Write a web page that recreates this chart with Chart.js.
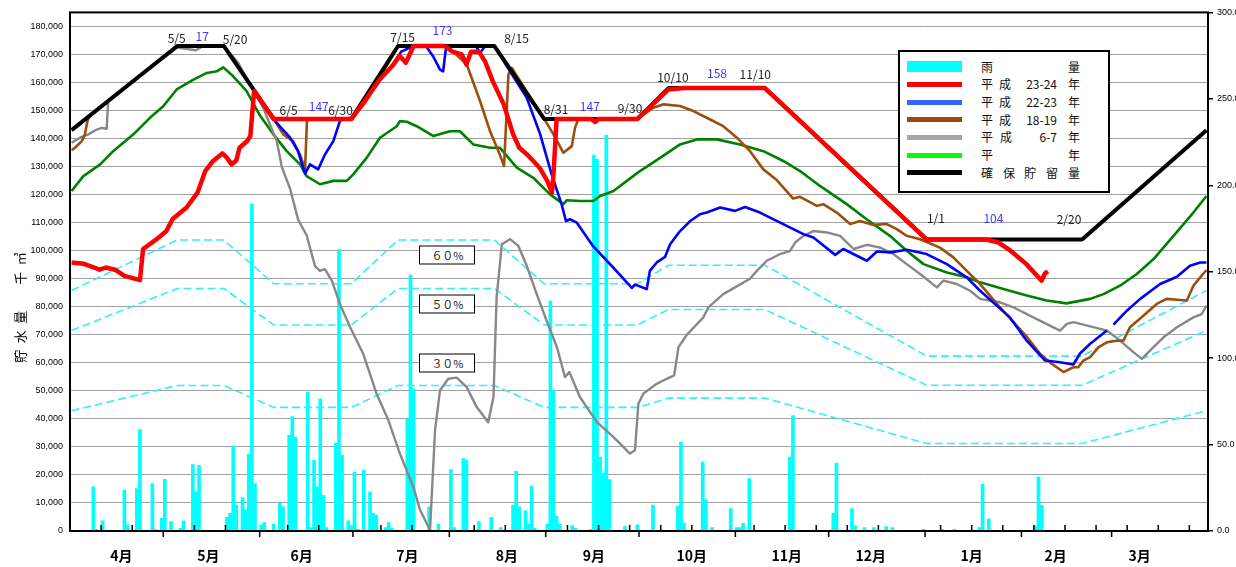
<!DOCTYPE html>
<html>
<head>
<meta charset="utf-8">
<script src="https://cdn.jsdelivr.net/npm/chart.js@4.4.1/dist/chart.umd.min.js"></script>
<style>
html, body { margin: 0; padding: 0; background: #fff; overflow: hidden; }
#wrap { position: relative; width: 1260px; height: 567px; }
#chart { position: absolute; left: 0; top: 0; }
.note { position: absolute; font: 12px "Noto Sans CJK JP", sans-serif; color: #222; transform: translate(-50%, -50%); white-space: nowrap; line-height: 1; }
.note.blue { color: #3a3aff; }
.pct { position: absolute; width: 56px; height: 19px; box-sizing: border-box; border: 1.5px solid #000; background: #fff;
       font: 11px "Noto Sans CJK JP", sans-serif; text-align: center; line-height: 16px; transform: translate(-50%, -50%); color: #222; }
#legend { position: absolute; left: 898px; top: 50px; width: 212px; height: 143px; box-sizing: border-box; border: 2px solid #000; background: #fff; }
#legend .sw { position: absolute; left: 7px; width: 55px; }
#legend .tx { position: absolute; font: 12px "Noto Sans CJK JP", sans-serif; color: #111; line-height: 1; white-space: nowrap; }
</style>
</head>
<body>
<div id="wrap">
  <canvas id="chart" width="1260" height="567"></canvas>
  <div id="legend"></div>
</div>
<script>
// Axis labels
const monthNames = ['4月', '5月', '6月', '7月', '8月', '9月', '10月', '11月', '12月', '1月', '2月', '3月'];
const monthLabelDays = [16, 44, 74, 108, 140, 168, 199.5, 230, 257, 289.5, 316.5, 343.5];
const monthStarts = [30, 61, 91, 122, 153, 183, 214, 244, 275, 306, 335];
const minorTicks = [10, 20, 40, 50, 70, 80, 100, 110, 130, 140, 160, 170, 180, 190, 200, 220, 230, 240, 250, 260, 280, 290, 300, 310, 320, 330, 340, 350, 360];
const leftTicks = [0, 10000, 20000, 30000, 40000, 50000, 60000, 70000, 80000, 90000, 100000, 110000, 120000, 130000, 140000, 150000, 160000, 170000, 180000];
const rightTicks = [0, 50, 100, 150, 200, 250, 300];

// Rainfall (mm, right axis), day index from 4/1
const rainDays = [7, 8, 10, 17, 18, 21, 22, 26, 27, 29, 30, 32, 35, 36, 39, 40, 41, 50, 51, 52, 53, 55, 56, 57, 58, 59, 61, 62, 65, 67, 68, 70, 71, 72, 76, 77, 78, 79, 80, 81, 82, 85, 86, 87, 89, 90, 91, 92, 94, 96, 97, 98, 101, 102, 103, 108, 109, 110, 115, 118, 122, 123, 126, 127, 131, 135, 138, 142, 143, 144, 146, 147, 148, 149, 153, 154, 155, 156, 157, 161, 162, 167, 168, 169, 170, 171, 172, 173, 178, 182, 187, 195, 196, 197, 203, 204, 206, 212, 214, 215, 216, 218, 231, 232, 245, 246, 251, 252, 255, 258, 262, 264, 274, 280, 284, 292, 293, 295, 310, 311, 312];
const rainVals = [25.5, 1, 5.9, 23.6, 3.5, 24.6, 58.6, 27.5, 1, 7.3, 29.9, 5.4, 1.5, 5.9, 38.4, 22.6, 38, 7.9, 10.2, 49.1, 15, 19.4, 12.1, 44.3, 189.3, 27.5, 3.5, 4.8, 4, 16.3, 14, 55.3, 66.2, 54.3, 80.2, 2, 40.9, 25.5, 76.4, 20.7, 2, 50.8, 162.8, 43.8, 5.9, 3, 34.1, 1, 35.1, 22.6, 10.2, 9.2, 2, 4.8, 1.5, 64.9, 148, 82.2, 14, 4, 35.5, 2, 41.9, 40.9, 5.4, 7.9, 2, 15, 34.5, 14, 11.7, 4, 25.9, 1.5, 4, 133, 81.2, 8.6, 4, 3, 1.5, 1, 217.5, 215, 42.8, 33.6, 229, 29.8, 2.5, 3.5, 15, 14.4, 51.4, 4.4, 39.9, 18.2, 2, 13, 2, 2, 4.4, 30.3, 42.8, 66.8, 10.2, 39.3, 13, 3, 2, 2, 2.5, 2, 1, 1, 1, 2, 27.1, 7.1, 3, 31.3, 14.8];

// H23-24 (red)
const redDays = [0, 4, 7.5, 9, 11, 14, 17, 22, 23, 27.5, 30.5, 32.5, 37, 40.5, 43, 45.5, 48.5, 50, 51.5, 53, 54, 56.5, 57.5, 58, 58.7, 65, 90, 95, 99, 103.5, 105.5, 107.5, 110, 120, 122.5, 125.5, 127, 128.5, 131, 133, 135.5, 139, 142, 144, 146.5, 148.5, 150.5, 153, 154.5, 155, 156, 167, 168.5, 169.5, 182, 192, 197, 223, 275, 294, 298, 302, 307, 312, 313, 314];
const redVals = [95800, 95300, 93900, 93200, 94000, 93200, 91000, 89500, 100600, 104200, 107000, 111300, 115400, 120700, 128400, 132000, 134700, 133100, 130800, 132200, 136700, 139100, 140900, 147400, 156900, 147000, 147000, 154500, 161000, 166300, 169500, 167000, 173000, 173000, 171000, 170000, 166400, 171000, 171000, 167500, 160400, 152200, 141600, 136700, 134300, 132000, 129600, 124900, 120700, 127200, 147000, 147000, 145900, 147000, 147000, 157500, 158000, 158000, 104000, 104000, 103000, 100000, 95300, 89300, 91800, 92600];

// H22-23 (blue)
const blueDays = [63, 66, 70.3, 72.8, 75.1, 76.7, 79.3, 81.5, 84.2, 86.3, 87.3, 90, 100, 103, 106, 110, 114, 116.3, 118.5, 119.5, 120.5, 130, 131.4, 133, 136, 141, 146.4, 150.7, 154.4, 157.6, 159, 160.3, 162.5, 167.8, 174.2, 180.2, 181.2, 185, 186, 188.2, 190.9, 192.5, 195.7, 199, 202.1, 204.3, 208.6, 213.4, 216.6, 221.4, 227.9, 235.4, 238.6, 245.6, 248.2, 255.8, 259, 263.3, 268.6, 275, 281.5, 287.9, 292.2, 301.8, 307.2, 313.1, 317.9, 322.2, 324.4, 327.6, 333, 334, 335.1, 339.4, 343.7, 350.1, 355.5, 359.7, 363, 365];
const blueVals = [150000, 145600, 140300, 135500, 127500, 130800, 129000, 134300, 139100, 146200, 147000, 147000, 162000, 166000, 171000, 173000, 173000, 169300, 164600, 164000, 173000, 173000, 170500, 173000, 173000, 164000, 154500, 141600, 127200, 116600, 110600, 111200, 110000, 101500, 94000, 86700, 87900, 86300, 92800, 95800, 97800, 102300, 107000, 110600, 113000, 113600, 115400, 114200, 115600, 113600, 110000, 105900, 104700, 98500, 100600, 96400, 99700, 99400, 100300, 98800, 95200, 90500, 85700, 76200, 67900, 60800, 60200, 59400, 63400, 66800, 71500, null, 73600, 78600, 82800, 88100, 90700, 94600, 95800, 95800];

// H18-19 (brown)
const brownDays = [0, 1.1, 3.3, 4.3, 5.1, 5.9, 34, 49, 65, 68.1, 71.3, 73.5, 75.1, 75.7, 76.2, 90, 94.4, 105, 120.6, 122.7, 127.1, 131.4, 134.6, 137.3, 139.1, 140.5, 141.6, 152, 155, 158.2, 160.9, 161.9, 163, 182, 187.1, 190.4, 195.7, 200, 205.4, 209.6, 214, 218.2, 222.5, 226.8, 232.1, 234.3, 239.7, 241.8, 246.1, 250.4, 253.6, 257.9, 262.2, 265.4, 268.6, 272.9, 279.3, 283.6, 287.9, 292.2, 298.6, 307.2, 311.5, 315.2, 319, 322.2, 323.8, 325.4, 327.6, 330.3, 333, 336.2, 338.3, 340.4, 344.7, 349, 352.2, 356.5, 358.7, 360.8, 363, 365];
const brownVals = [135800, 136700, 139100, 141500, 146200, 148300, 173000, 173000, 147000, 141500, 139000, 134300, 129000, 146200, 147000, 147000, 152700, 173000, 173000, 171000, 166400, 153300, 142600, 135500, 130200, 162800, 165200, 147000, 141500, 134900, 137300, 143800, 147000, 147000, 151000, 152200, 151600, 149800, 146800, 144400, 140300, 135500, 129000, 125200, 118600, 119200, 116000, 116600, 113600, 109500, 110600, 109200, 109500, 107700, 105300, 104100, 101100, 97600, 92800, 88100, 79800, 69300, 63200, 59700, 56700, 58400, 58400, 60800, 62000, 65600, 67300, 67900, 67900, 72700, 76800, 81000, 82800, 82400, 82200, 87500, 90500, 93100];

// H6-7 (gray)
const grayDays = [0, 2.7, 5.4, 8.1, 9.7, 11.3, 11.8, 34, 40, 42, 49, 53.6, 58.5, 61.7, 63.8, 66, 67.6, 70.3, 72.9, 75.6, 78.3, 79.9, 81.5, 83.7, 86.3, 89.6, 93.8, 98.1, 101.9, 105.6, 109.9, 112.1, 115.3, 116.9, 118.5, 121.2, 123.9, 127.1, 130.3, 134, 135.7, 136.7, 138.4, 141, 143.7, 146.4, 149.6, 152.8, 156.1, 158.7, 160.1, 163.5, 168.9, 174.3, 179.6, 181.2, 182.3, 183.9, 188.2, 191.4, 193.8, 195.2, 197.9, 203.2, 204.8, 209.6, 218.2, 220.4, 223.6, 227.9, 231.1, 232.7, 235.4, 238.6, 242.9, 247.2, 251.5, 255.8, 260.1, 264.3, 268.6, 272.9, 278.3, 280.4, 284.7, 289, 292.2, 298.6, 302.9, 309.3, 317.9, 320.1, 322.2, 325.4, 328.6, 333, 337.2, 341.5, 344.2, 346.9, 351.2, 355.5, 360.8, 363.5, 365];
const grayVals = [138500, 140300, 141500, 143200, 143800, 143500, 153600, 172500, 171500, 172800, 173000, 167000, 156900, 150900, 145000, 139100, 130000, 122000, 111000, 105500, 94500, 92800, 93400, 89300, 81000, 72700, 63200, 49000, 39500, 27600, 15800, 7500, 300, 35900, 50200, 54300, 54700, 51300, 44200, 38800, 47800, 83300, 102300, 104100, 101700, 94600, 84500, 75000, 65600, 54900, 56700, 47800, 38900, 33500, 27600, 28800, 45400, 49000, 52500, 54300, 55500, 65600, 70000, 76200, 79800, 84500, 90000, 92800, 96400, 98800, 99900, 102900, 105300, 107000, 106500, 105300, 100600, 102100, 101100, 98800, 95200, 91700, 86900, 89300, 88100, 85700, 82800, 81600, 79800, 76200, 71500, 73900, 74500, 73600, 72700, 71500, 67900, 63800, 61400, 64400, 69100, 72700, 76200, 77400, 80400];

// Normal year (green)
const greenDays = [0, 3.8, 9.2, 13.4, 19.9, 25.2, 29.5, 33.8, 39.2, 43.5, 46.7, 48.8, 52, 56.3, 60.6, 64.9, 69.2, 73.5, 75.6, 79.9, 84.2, 88.5, 90.6, 94.9, 99.2, 104.6, 105.6, 107.8, 111, 116.4, 121.7, 124.9, 129.2, 134.6, 137.8, 143.2, 148.5, 153.9, 158.2, 159.3, 163.5, 167.8, 170, 174.3, 178.6, 182.8, 189.3, 195.7, 201.1, 207.5, 215, 222.5, 228.9, 234.3, 240.7, 249.3, 255.7, 263.2, 268.6, 274, 281.5, 287.9, 292.2, 299.7, 307.2, 313.6, 320, 327.6, 331.9, 337.2, 342.6, 348, 354.4, 360.8, 365];
const greenVals = [121300, 126600, 130800, 135500, 141500, 147400, 151500, 157500, 161000, 163400, 164000, 165400, 162200, 156900, 148200, 141500, 135500, 130800, 126600, 123700, 124900, 124900, 127200, 133100, 140300, 144400, 146200, 146000, 144400, 140900, 142600, 142600, 137900, 136700, 136700, 129600, 126000, 120100, 116600, 118000, 117700, 117700, 119500, 121300, 124900, 128400, 133100, 137900, 139700, 139700, 137900, 135500, 132000, 128400, 123100, 116600, 111200, 105300, 100000, 95200, 92200, 90500, 88700, 86300, 84000, 82200, 81200, 82800, 84500, 87500, 91700, 97000, 105300, 113600, 119500];

// Secured storage (black) and its 60/50/30% lines
const ruleDays = [0, 34, 49, 65, 90, 105, 136, 152, 182, 192, 223, 275, 325, 365];
const ruleVals = [143000, 173000, 173000, 147000, 147000, 173000, 173000, 147000, 147000, 158000, 158000, 104000, 104000, 143000];
const p60Vals = [85800, 103800, 103800, 88200, 88200, 103800, 103800, 88200, 88200, 94800, 94800, 62400, 62400, 85800];
const p50Vals = [71500, 86500, 86500, 73500, 73500, 86500, 86500, 73500, 73500, 79000, 79000, 52000, 52000, 71500];
const p30Vals = [42900, 51900, 51900, 44100, 44100, 51900, 51900, 44100, 44100, 47400, 47400, 31200, 31200, 42900];

// Annotations
const noteText = ['5/5', '17', '5/20', '6/5', '147', '6/30', '7/15', '173', '8/15', '8/31', '147', '9/30', '10/10', '158', '11/10', '1/1', '104', '2/20'];
const noteBlue = [0, 1, 0, 0, 1, 0, 0, 1, 0, 0, 1, 0, 0, 1, 0, 0, 1, 0];
const noteDay = [33.8, 42, 52.6, 69.8, 79.5, 86.5, 106.5, 119.3, 143.1, 155.8, 166.7, 179.6, 193.4, 207.6, 219.9, 278, 296.5, 320.8];
const noteVal = [175700, 176600, 175500, 150200, 151500, 150200, 176400, 178700, 175800, 150500, 151500, 150900, 161800, 163500, 163000, 111600, 111600, 111300];
const pctText = ['６０%', '５０%', '３０%'];
const pctDay = [120.9, 120.9, 120.9];
const pctVal = [98400, 80900, 59800];

const pts = (days, vals) => days.map((d, i) => ({ x: d, y: vals[i] }));

Chart.defaults.font.family = "'Liberation Sans', Arial, sans-serif";
Chart.defaults.color = '#000';

function lineSet(label, days, vals, color, width, order, dash) {
    return {
        type: 'line',
        label: label,
        data: pts(days, vals),
        borderColor: color,
        borderWidth: width,
        borderDash: dash || [],
        borderJoinStyle: 'round',
        pointRadius: 0,
        tension: 0,
        fill: false,
        spanGaps: false,
        order: order
    };
}

// Frame around the plot and the day ticks on the x axis
const axisMarks = {
    id: 'axisMarks',
    afterDatasetsDraw(chart) {
        const { ctx, chartArea: a, scales: { x } } = chart;
        ctx.save();
        ctx.strokeStyle = '#000';
        ctx.lineWidth = 1.5;
        ctx.beginPath();
        minorTicks.forEach(d => {
            const px = x.getPixelForValue(d - 0.5);
            ctx.moveTo(px, a.bottom);
            ctx.lineTo(px, a.bottom - 6);
        });
        monthStarts.forEach(d => {
            const px = x.getPixelForValue(d - 0.5);
            ctx.moveTo(px, a.bottom);
            ctx.lineTo(px, a.bottom + 6);
        });
        ctx.stroke();
        ctx.lineWidth = 2;
        ctx.strokeRect(a.left, a.top, a.right - a.left, a.bottom - a.top);
        ctx.restore();
    }
};

const chart = new Chart(document.getElementById('chart').getContext('2d'), {
    type: 'line',
    data: {
        datasets: [
            lineSet('平成23-24年', redDays, redVals, '#ff0000', 4.5, 0),
            lineSet('確保貯留量', ruleDays, ruleVals, '#000000', 4, 1),
            lineSet('平成22-23年', blueDays, blueVals, '#0000ff', 2.6, 2),
            lineSet('平成18-19年', brownDays, brownVals, '#9c4f0c', 2.6, 3),
            lineSet('平成6-7年', grayDays, grayVals, '#888888', 2.4, 4),
            lineSet('平年', greenDays, greenVals, '#008000', 2.6, 5),
            lineSet('60%', ruleDays, p60Vals, '#2ef0ff', 1.6, 6, [8, 4]),
            lineSet('50%', ruleDays, p50Vals, '#2ef0ff', 1.6, 6, [8, 4]),
            lineSet('30%', ruleDays, p30Vals, '#2ef0ff', 1.6, 6, [8, 4]),
            {
                type: 'bar',
                label: '雨量',
                data: pts(rainDays, rainVals),
                yAxisID: 'y2',
                backgroundColor: '#00ffff',
                borderWidth: 0,
                barThickness: 3,
                order: 8
            }
        ]
    },
    options: {
        responsive: false,
        animation: false,
        devicePixelRatio: 1,
        layout: { padding: { top: 10, left: 0, right: 0, bottom: 0 } },
        plugins: { legend: { display: false }, tooltip: { enabled: false } },
        scales: {
            x: {
                type: 'linear',
                min: -0.5,
                max: 365.5,
                offset: false,
                afterBuildTicks: s => { s.ticks = monthLabelDays.map(v => ({ value: v })); },
                afterFit: s => { s.height = 36; },
                ticks: {
                    autoSkip: false,
                    maxRotation: 0,
                    padding: 16,
                    color: '#000',
                    font: { family: "'Noto Sans CJK JP', sans-serif", size: 14, weight: 'bold' },
                    callback: (v, i) => monthNames[i]
                },
                grid: { display: false, drawTicks: false },
                border: { display: false }
            },
            y: {
                min: 0,
                max: 185000,
                afterBuildTicks: s => { s.ticks = leftTicks.map(v => ({ value: v })); },
                afterFit: s => { s.width = 70; },
                ticks: {
                    padding: 7,
                    color: '#000',
                    font: { size: 9 },
                    callback: v => v.toLocaleString('en-US')
                },
                grid: { color: '#a0a0a0', lineWidth: 1, drawTicks: false },
                border: { display: false },
                title: {
                    display: true,
                    text: '貯\u2002水\u2002量\u3000\u3000千\u2002㎥\u3000\u3000\u3000\u3000\u3000\u2002',
                    color: '#000',
                    padding: { top: 12, bottom: 0 },
                    font: { family: "'Noto Sans CJK JP', sans-serif", size: 13 }
                }
            },
            y2: {
                position: 'right',
                min: 0,
                max: 300,
                afterBuildTicks: s => { s.ticks = rightTicks.map(v => ({ value: v })); },
                afterFit: s => { s.width = 52; },
                ticks: {
                    padding: 4,
                    color: '#000',
                    font: { size: 9 },
                    callback: v => v.toFixed(1)
                },
                grid: { drawOnChartArea: false, drawTicks: true, tickLength: 5, color: '#000', lineWidth: 1.5 },
                border: { display: false }
            }
        }
    },
    plugins: [axisMarks]
});

// Text annotations placed through the chart scales
const wrap = document.getElementById('wrap');
const xs = chart.scales.x, ys = chart.scales.y;
noteText.forEach((t, i) => {
    const el = document.createElement('div');
    el.className = 'note' + (noteBlue[i] ? ' blue' : '');
    el.textContent = t;
    el.style.left = xs.getPixelForValue(noteDay[i]) + 'px';
    el.style.top = ys.getPixelForValue(noteVal[i]) + 'px';
    wrap.appendChild(el);
});
pctText.forEach((t, i) => {
    const el = document.createElement('div');
    el.className = 'pct';
    el.textContent = t;
    el.style.left = xs.getPixelForValue(pctDay[i]) + 'px';
    el.style.top = ys.getPixelForValue(pctVal[i]) + 'px';
    wrap.appendChild(el);
});

// Legend
const legendRows = [
    { color: '#00ffff', bar: true, parts: [['雨', 87], ['量', 174]] },
    { color: '#ff0000', parts: [['平', 87], ['成', 105], ['23-24', 157, 'r'], ['年', 174]] },
    { color: '#3366ff', parts: [['平', 87], ['成', 105], ['22-23', 157, 'r'], ['年', 174]] },
    { color: '#9a4a0a', parts: [['平', 87], ['成', 105], ['18-19', 157, 'r'], ['年', 174]] },
    { color: '#a6a6a6', parts: [['平', 87], ['成', 106], ['6-7', 157, 'r'], ['年', 174]] },
    { color: '#00ff00', parts: [['平', 87], ['年', 174]] },
    { color: '#000000', parts: [['確', 87], ['保', 109], ['貯', 130], ['留', 152], ['量', 174]] }
];
const legend = document.getElementById('legend');
legendRows.forEach((row, i) => {
    const cy = 14.7 + i * 17.67;
    const sw = document.createElement('div');
    sw.className = 'sw';
    const h = row.bar ? 11 : 5;
    sw.style.top = (cy - h / 2) + 'px';
    sw.style.height = h + 'px';
    sw.style.background = row.color;
    legend.appendChild(sw);
    row.parts.forEach(p => {
        const el = document.createElement('span');
        el.className = 'tx';
        el.textContent = p[0];
        el.style.top = (cy - 6) + 'px';
        if (p[2] === 'r') {
            el.style.right = (208 - p[1]) + 'px';
        } else {
            el.style.left = p[1] + 'px';
            el.style.transform = 'translateX(-50%)';
        }
        legend.appendChild(el);
    });
});
</script>
</body>
</html>
